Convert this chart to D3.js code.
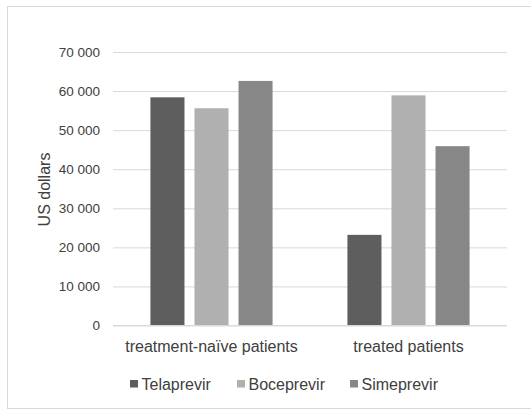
<!DOCTYPE html>
<html><head><meta charset="utf-8">
<script src="https://cdn.jsdelivr.net/npm/d3@7"></script>
<style>body{margin:0;background:#fff}svg{display:block}text{font-family:"Liberation Sans",Arial,sans-serif;fill:#404040}</style>
</head><body><svg id="c" width="531" height="410"></svg>
<script>
const categories = ["treatment-naïve patients", "treated patients"];
const seriesNames = ["Telaprevir", "Boceprevir", "Simeprevir"];
const seriesColors = ["#5e5e5e", "#b0b0b0", "#878787"];
const telaprevir = [58400, 23200];
const boceprevir = [55600, 58900];
const simeprevir = [62600, 45900];
const yTicks = [0, 10000, 20000, 30000, 40000, 50000, 60000, 70000];
const seriesValues = [telaprevir, boceprevir, simeprevir];

(function () {
const svg = d3.select("#c");
svg.append("rect").attr("x", 7.5).attr("y", 6.5).attr("width", 530).attr("height", 402)
  .attr("fill", "none").attr("stroke", "#d9d9d9");

const pl = 113, pr = 507, pt = 52, pb = 325.5;
const y = d3.scaleLinear().domain([0, 70000]).range([pb, pt]);
const x0 = d3.scaleBand().domain(categories).range([pl, pr]).paddingInner(0.38).paddingOuter(0.19);
const x1 = d3.scaleBand().domain(seriesNames).range([0, x0.bandwidth()]).paddingInner(0.227).paddingOuter(0);

const fmt = v => d3.format(",")(v).replace(/,/g, " ");
const yAxis = svg.append("g").attr("transform", `translate(${pl},0)`)
  .call(d3.axisLeft(y).tickValues(yTicks).tickSize(-(pr - pl)).tickFormat(fmt));
yAxis.select(".domain").remove();
yAxis.selectAll(".tick line").attr("stroke", "#d9d9d9").attr("stroke-width", 1);
yAxis.selectAll(".tick text").attr("x", -13).attr("font-size", 13.5).style("fill", "#404040")
  .attr("font-family", "Liberation Sans, Arial, sans-serif");

const groups = svg.append("g").selectAll("g").data(categories).join("g")
  .attr("transform", d => `translate(${x0(d)},0)`);
groups.selectAll("rect").data((d, i) => seriesNames.map((s, j) => ({s, j, v: seriesValues[j][i]})))
  .join("rect")
  .attr("x", d => x1(d.s)).attr("width", x1.bandwidth())
  .attr("y", d => y(d.v)).attr("height", d => y(0) - y(d.v))
  .attr("fill", d => seriesColors[d.j]);

svg.append("line").attr("x1", pl).attr("x2", pr).attr("y1", y(0)).attr("y2", y(0)).attr("stroke", "#d9d9d9");

const xAxis = svg.append("g").attr("transform", `translate(0,${pb})`)
  .call(d3.axisBottom(x0).tickSize(0).tickPadding(15.5));
xAxis.select(".domain").remove();
xAxis.selectAll(".tick text").attr("font-size", 16).style("fill", "#404040")
  .attr("font-family", "Liberation Sans, Arial, sans-serif");

svg.append("text").attr("transform", `translate(50,189.5) rotate(-90)`)
  .attr("text-anchor", "middle").attr("font-size", 16).text("US dollars");

const legendX = [130, 237, 350];
const lg = svg.append("g").selectAll("g").data(seriesNames).join("g")
  .attr("transform", (d, i) => `translate(${legendX[i]},0)`);
lg.append("rect").attr("x", 0).attr("y", 380).attr("width", 8).attr("height", 7.5).attr("fill", (d, i) => seriesColors[i]);
lg.append("text").attr("x", 11.5).attr("y", 390).attr("font-size", 16).text(d => d);
})();
</script></body></html>
